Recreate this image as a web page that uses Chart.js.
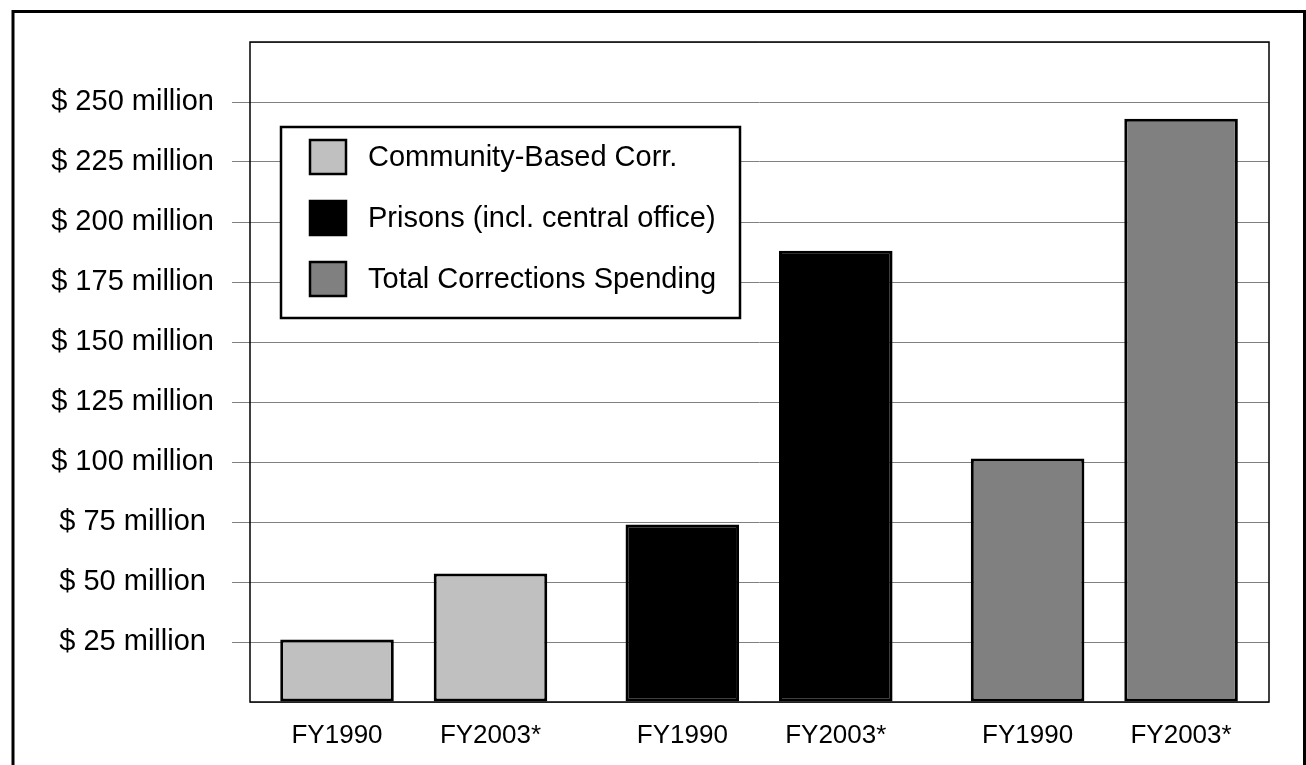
<!DOCTYPE html>
<html>
<head>
<meta charset="utf-8">
<title>Corrections Spending</title>
<script src="https://cdn.jsdelivr.net/npm/chart.js@4.4.1/dist/chart.umd.min.js"></script>
<style>
	html, body { margin: 0; padding: 0; background: #fff; overflow: hidden; }
	canvas { display: block; }
</style>
</head>
<body>
<canvas id="canvas" width="1306" height="765"></canvas>
<script>
const programs = ["Community-Based Corr.", "Prisons (incl. central office)", "Total Corrections Spending"];
const years = ["FY1990", "FY2003*"];
const communityValues = [26, 53.5];
const prisonValues = [74, 188];
const totalValues = [101.5, 243];
const yTickStep = 25;
const yMax = 275;

const fillColors = ["#c0c0c0", "#000000", "#808080"];
const groupGap = 2.25; // distance between group starts, in bar slots

// bar slot position for a given group and year
const slot = (g, i) => g * groupGap + i;

const seriesValues = [communityValues, prisonValues, totalValues];

window.onload = () => {
	const ctx = document.getElementById("canvas").getContext("2d");
	const font = "'Liberation Sans', Arial, sans-serif";

	const datasets = seriesValues.map((vals, g) => ({
		label: programs[g],
		data: vals.map((v, i) => ({ x: slot(g, i), y: v })),
		backgroundColor: fillColors[g],
		borderColor: "#000",
		borderWidth: 3,
		borderSkipped: false,
		grouped: false,
		categoryPercentage: 1,
		barPercentage: 0.74,
	}));

	const xPositions = [];
	seriesValues.forEach((vals, g) => vals.forEach((v, i) => xPositions.push(slot(g, i))));

	const frame = {
		id: "frame",
		beforeDraw(chart) {
			const c = chart.ctx;
			c.save();
			c.fillStyle = "#fff";
			c.fillRect(0, 0, chart.width, chart.height);
			c.strokeStyle = "#000";
			c.lineWidth = 3;
			c.strokeRect(13, 11.5, 1291.5, 820);
			c.restore();
		},
		afterDatasetsDraw(chart) {
			const a = chart.chartArea;
			const c = chart.ctx;
			c.save();
			c.strokeStyle = "#000";
			c.lineWidth = 1.5;
			c.strokeRect(a.left, a.top, a.right - a.left, a.bottom - a.top);

			// legend box
			const bx = a.left + 31, by = a.top + 85, bw = 459, bh = 191;
			c.fillStyle = "#fff";
			c.fillRect(bx, by, bw, bh);
			c.lineWidth = 2.5;
			c.strokeRect(bx, by, bw, bh);
			c.font = "29px " + font;
			c.textBaseline = "middle";
			chart.data.datasets.forEach((ds, k) => {
				const cy = by + 30 + k * 61;
				c.fillStyle = ds.backgroundColor;
				c.fillRect(bx + 29, cy - 17, 36, 34);
				c.lineWidth = 2.5;
				c.strokeStyle = "#000";
				c.strokeRect(bx + 29, cy - 17, 36, 34);
				c.fillStyle = "#000";
				c.fillText(ds.label, bx + 87, cy + 1);
			});
			c.restore();
		},
	};

	new Chart(ctx, {
		type: "bar",
		data: { datasets },
		options: {
			responsive: false,
			animation: false,
			layout: { padding: { top: 42, right: 37, left: 0, bottom: 0 } },
			plugins: { legend: { display: false }, tooltip: { enabled: false } },
			scales: {
				x: {
					type: "linear",
					offset: false,
					min: -0.567,
					max: 5.5 + 0.573,
					grid: { display: false, drawTicks: false },
					border: { display: false },
					afterBuildTicks: (scale) => {
						scale.ticks = xPositions.map((v) => ({ value: v }));
					},
					afterFit: (scale) => { scale.height = 63; },
					ticks: {
						autoSkip: false,
						maxRotation: 0,
						padding: 18,
						color: "#000",
						font: { family: font, size: 26 },
						callback: (v, i) => years[i % years.length],
					},
				},
				y: {
					min: 0,
					max: yMax,
					afterFit: (scale) => { scale.width = 250; },
					border: { display: false },
					grid: {
						color: "#808080",
						lineWidth: 1,
						tickLength: 18,
						tickColor: (c) => (c.tick && (c.tick.value === 0 || c.tick.value === yMax)) ? "rgba(0,0,0,0)" : "#808080",
					},
					ticks: {
						stepSize: yTickStep,
						padding: 18,
						crossAlign: "center",
						color: "#000",
						font: { family: font, size: 29 },
						callback: (v) => (v === 0 || v === yMax) ? "" : "$ " + v + " million",
					},
				},
			},
		},
		plugins: [frame],
	});
};
</script>
</body>
</html>
